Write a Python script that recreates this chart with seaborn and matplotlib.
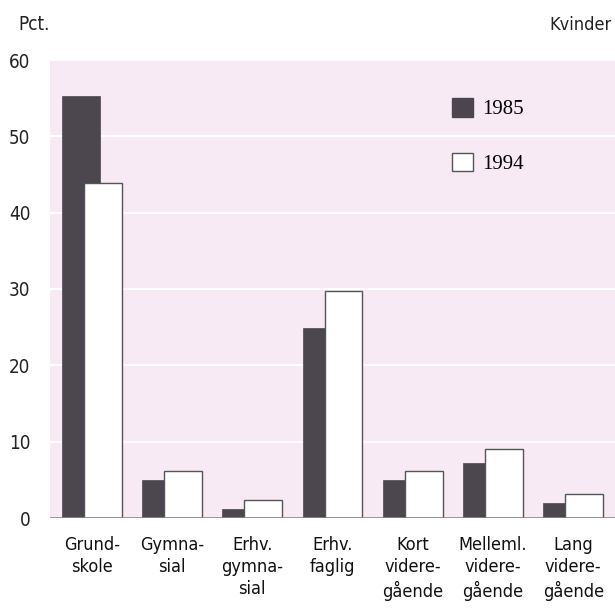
import pandas as pd
import matplotlib.pyplot as plt
import seaborn as sns
from matplotlib.patches import Patch

# data
categories = ["Grund-\nskole", "Gymna-\nsial", "Erhv.\ngymna-\nsial", "Erhv.\nfaglig",
              "Kort\nvidere-\ngående", "Melleml.\nvidere-\ngående", "Lang\nvidere-\ngående"]
years = ["1985", "1994"]
values_1985 = [55.3, 5.0, 1.2, 24.9, 5.0, 7.2, 2.0]
values_1994 = [43.9, 6.1, 2.4, 29.8, 6.2, 9.0, 3.1]

df = pd.DataFrame({"Gruppe": categories, "1985": values_1985, "1994": values_1994})
df = df.melt(id_vars="Gruppe", value_vars=years, var_name="År", value_name="Pct")

plt.rcParams['font.family'] = ['DejaVu Sans']
plt.rcParams['font.stretch'] = 'condensed'

dark = "#4c4550"
bg = "#f8eaf4"

fig = plt.figure(figsize=(6.15, 6.08), dpi=100)
ax = fig.add_axes([50 / 615, 90 / 608, 565 / 615, 458 / 608])
ax.set_facecolor(bg)

sns.barplot(data=df, x="Gruppe", y="Pct", hue="År", hue_order=years,
            palette={"1985": dark, "1994": "white"}, dodge=True, width=0.55,
            legend=False, ax=ax)

# the bars overlap a bit in the original, widen them around their centres
new_w = 0.47
for i, cont in enumerate(ax.containers):
    for p in cont.patches:
        c = p.get_x() + p.get_width() / 2
        p.set_width(new_w)
        p.set_x(c - new_w / 2)
        if i == 0:
            p.set_edgecolor(dark)
            p.set_linewidth(0.5)
        else:
            p.set_edgecolor("#555555")
            p.set_linewidth(1.0)
            p.set_zorder(3)

ax.set_ylim(0, 60)
ax.set_xlim(-0.52, 6.52)
ax.set_yticks(range(0, 61, 10))
ax.yaxis.grid(True, color="white", linewidth=1.5)
ax.set_axisbelow(True)
ax.axhline(0, color="#888888", linewidth=1.2, zorder=4)
for s in ax.spines.values():
    s.set_visible(False)

ax.tick_params(axis="y", length=0, pad=14, labelsize=13.5, labelcolor="#222222")
ax.tick_params(axis="x", length=0, pad=13, labelsize=13, labelcolor="#111111")
for lab in ax.get_xticklabels():
    lab.set_linespacing(1.3)
ax.set_xlabel("")
ax.set_ylabel("")

# legend
handles = [Patch(facecolor=dark, edgecolor=dark, label="1985"),
           Patch(facecolor="white", edgecolor="#555555", linewidth=1.0, label="1994")]
ax.legend(handles=handles, loc="upper left", bbox_to_anchor=(452 / 615, 1 - 98 / 608),
          bbox_transform=fig.transFigure, frameon=False, borderpad=0, borderaxespad=0,
          handlelength=1.0, handleheight=1.0, handletextpad=0.45, labelspacing=1.6,
          prop={"family": ["Liberation Serif", "DejaVu Serif"], "size": 15})

fig.text(18 / 615, 1 - 25 / 608, "Pct.", fontsize=13.5, va="center", ha="left", color="#222222")
fig.text(612 / 615, 1 - 25 / 608, "Kvinder", fontsize=13, va="center", ha="right", color="#222222")

fig.savefig("out.png", dpi=100)
